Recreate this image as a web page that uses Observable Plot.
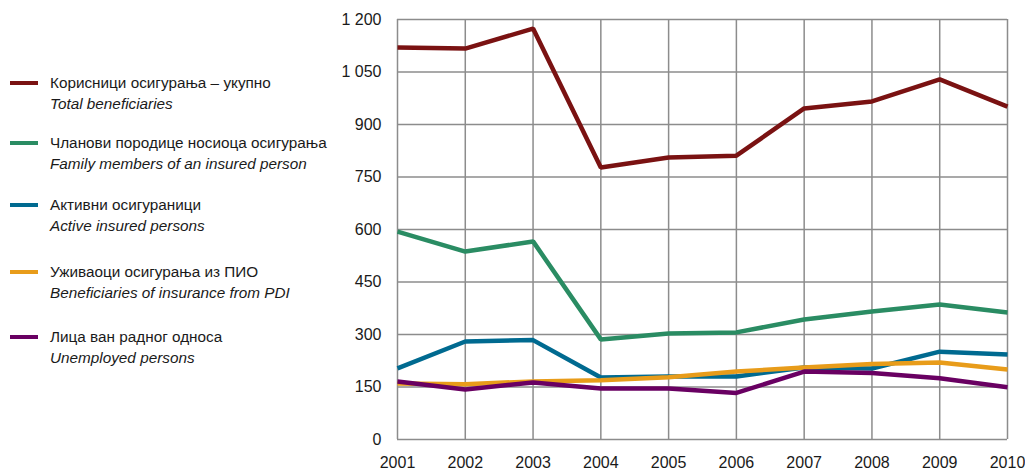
<!DOCTYPE html>
<html><head><meta charset="utf-8">
<script src="https://cdn.jsdelivr.net/npm/d3@7"></script>
<script src="https://cdn.jsdelivr.net/npm/@observablehq/plot@0.6"></script>
<style>
body{margin:0;background:#fff;font-family:"Liberation Sans Narrow","Liberation Sans",Arial,sans-serif;}
#wrap{position:relative;width:1025px;height:473px;display:flex;}
#legend{width:330px;height:473px;position:relative;}
.item{position:absolute;left:10px;font-size:15.3px;line-height:21px;color:#1a1a1a;}
.sw{position:absolute;left:0;top:9px;width:28px;height:3.5px;}
.txt{margin-left:40px;white-space:nowrap;}
.en{font-style:italic;}
</style></head><body>
<div id="wrap"><div id="legend"></div><div id="chart"></div></div>
<script>
const years = [2001,2002,2003,2004,2005,2006,2007,2008,2009,2010];
const seriesSr = ["Корисници осигурања – укупно","Чланови породице носиоца осигурања","Активни осигураници","Уживаоци осигурања из ПИО","Лица ван радног односа"];
const seriesEn = ["Total beneficiaries","Family members of an insured person","Active insured persons","Beneficiaries of insurance from PDI","Unemployed persons"];
const colors = ["#7a1212","#2a8c63","#006a90","#e89c1a","#690062"];
const total    = [1120,1117,1174,777,806,811,946,966,1029,951];
const family   = [594,537,566,286,303,306,343,366,386,363];
const active   = [203,280,284,177,180,180,206,203,251,243];
const pdi      = [160,158,166,169,178,194,206,216,220,200];
const unemp    = [166,143,163,146,146,133,194,190,175,149];
const yTicks = [0,150,300,450,600,750,900,1050,1200];

const valuesList = [total,family,active,pdi,unemp];
const data = [];
valuesList.forEach((vals,i)=>vals.forEach((v,j)=>data.push({series:seriesSr[i],year:years[j],value:v})));

const legendTops = [72,132,194,261,326];
const lg = document.getElementById("legend");
seriesSr.forEach((s,i)=>{
  const d = document.createElement("div");
  d.className="item"; d.style.top=legendTops[i]+"px";
  d.innerHTML = `<div class="sw" style="background:${colors[i]}"></div><div class="txt">${s}</div><div class="txt en">${seriesEn[i]}</div>`;
  lg.appendChild(d);
});

const fmt = v => d3.format(",")(v).replace(/,/g," ");
const chart = Plot.plot({
  width:695, height:473,
  marginLeft:67, marginRight:18, marginTop:19, marginBottom:34,
  style:{fontFamily:'"Liberation Sans Narrow","Liberation Sans",Arial,sans-serif',fontSize:"16px",color:"#1a1a1a",background:"#fff"},
  x:{domain:[2001,2010],ticks:years,tickFormat:"d",label:null},
  y:{domain:[0,1200],ticks:yTicks,tickFormat:fmt,label:null},
  color:{domain:seriesSr,range:colors},
  marks:[
    Plot.gridX(years,{stroke:"#8c8c8c",strokeOpacity:1,strokeWidth:1.5}),
    Plot.gridY(yTicks,{stroke:"#8c8c8c",strokeOpacity:1,strokeWidth:1.5}),
    Plot.axisX({ticks:years,tickFormat:"d",tickSize:0,tickPadding:17,fontSize:16}),
    Plot.axisY({ticks:yTicks,tickFormat:fmt,tickSize:0,tickPadding:16,fontSize:16}),
    Plot.line(data,{x:"year",y:"value",z:"series",stroke:"series",strokeWidth:4.5,strokeLinejoin:"miter",strokeLinecap:"butt"})
  ]
});
document.getElementById("chart").appendChild(chart);
</script></body></html>
